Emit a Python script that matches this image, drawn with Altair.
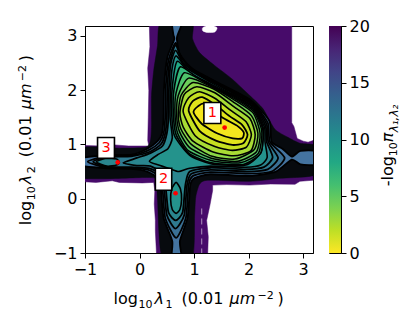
import altair as alt
import pandas as pd

FONT = "DejaVu Sans"
DOM = [-1, 3.18]

PURPLE = [(-1,.98),(-.7,.97),(-.45,.99),(-.2,.97),(.17,.97),(.15,1.07),(.16,1.5),(.17,1.99),(.15,2.4),(.19,2.8),(.18,3.18),
 (2.79,3.18),(2.79,1.40),(2.83,1.33),(2.89,1.11),(3.0,1.06),(3.09,1.04),(3.18,1.07),(3.18,.34),(2.94,.32),(2.85,.265),
 (2.4,.27),(2.02,.25),(1.6,.26),(1.34,.25),(1.34,.15),(1.29,-.12),(1.23,-.40),(1.26,-.7),(1.25,-1),(.31,-1),(.29,-.6),
 (.29,-.40),(.27,-.1),(.28,.15),(.26,.30),(.05,.29),(-.37,.30),(-.5,.33),(-.8,.30),(-1,.31)]
WHITE_BLOB = [(1.16,3.15),(1.29,3.2),(1.42,3.15),(1.38,3.07),(1.25,3.06),(1.16,3.09)]
BLACK = [(.39,3.25),(.33,2.82),(.26,2.36),(.22,1.90),(.22,1.35),(.20,1.07),(.11,.945),(-.37,.93),(-1.1,.93),(-1.1,.39),
 (.22,.39),(.31,.28),(.33,-.03),(.42,-1.1),(.96,-1.1),(1.01,-.30),(1.03,.03),(1.10,.265),(1.25,.34),(2.02,.32),(2.57,.375),
 (3.25,.45),(3.25,.96),(2.94,1.02),(2.72,1.13),(2.48,1.28),(2.26,1.66),(2.02,1.90),(1.69,2.21),(1.38,2.45),(1.10,2.69),(.97,2.95),(.96,3.25)]
T4 = [(.60,3.25),(.78,3.25),(.70,3.02),(.685,2.93),(.74,2.66),(.96,2.40),(1.47,2.12),(2.03,1.82),(2.38,1.43),(2.42,1.05),(2.62,.92),
 (2.79,.775),(2.95,.88),(3.25,.87),(3.25,.63),(2.95,.63),(2.79,.72),(2.50,.50),(2.01,.42),(1.30,.45),(1.01,.38),(.93,.25),(.88,-.35),
 (.74,-.78),(.77,-1.1),(.59,-1.1),(.60,-.78),(.44,-.35),(.39,.20),(.33,.38),(.14,.50),(-.15,.55),(-.60,.56),(-1.1,.61),(-1.1,.74),
 (-.60,.80),(-.15,.81),(.14,.92),(.33,1.06),(.41,1.20),(.44,1.50),(.45,2.05),(.51,2.60),(.635,2.93),(.62,3.02)]
T3B = [(.66,2.87),(.75,2.62),(.99,2.37),(1.50,2.09),(2.05,1.79),(2.35,1.40),(2.39,1.05),(2.66,.75),(2.42,.50),(1.99,.46),(1.30,.49),
 (.98,.42),(.90,.25),(.85,-.35),(.67,-.72),(.47,-.35),(.42,.20),(.36,.41),(.16,.53),(-.15,.565),(-.60,.575),(-.95,.68),(-.60,.785),
 (-.15,.795),(.16,.89),(.36,1.03),(.44,1.20),(.47,1.50),(.48,2.05),(.53,2.55)]
T3 = [(.66,2.83),(.77,2.58),(1.02,2.34),(1.53,2.06),(2.07,1.76),(2.33,1.37),(2.36,1.05),(2.54,.75),(2.35,.54),(1.97,.50),(1.30,.53),
 (.95,.46),(.87,.25),(.82,-.30),(.66,-.55),(.50,-.30),(.45,.20),(.39,.44),(.18,.56),(-.15,.58),(-.60,.59),(-.85,.68),(-.60,.77),
 (-.15,.78),(.18,.86),(.39,1.00),(.47,1.20),(.50,1.50),(.51,2.05),(.55,2.50)]
T2 = [(.66,2.73),(.80,2.50),(1.05,2.31),(1.55,2.03),(2.08,1.73),(2.31,1.34),(2.33,1.05),(2.44,.76),(2.28,.58),(1.95,.54),(1.30,.57),
 (.92,.50),(.84,.25),(.79,-.25),(.66,-.40),(.53,-.25),(.48,.20),(.42,.46),(.20,.60),(-.05,.61),(-.30,.66),(-.05,.75),(.20,.84),
 (.42,.97),(.50,1.20),(.53,1.50),(.54,2.05),(.57,2.48)]
T1 = [(.67,2.63),(.85,2.42),(1.10,2.26),(1.56,2.00),(2.08,1.70),(2.29,1.32),(2.30,1.05),(2.34,.76),(2.22,.62),(1.95,.58),(1.30,.60),
 (.92,.56),(.72,.50),(.56,.55),(.35,.62),(.18,.69),(.35,.82),(.52,.92),(.60,1.12),(.56,1.50),(.57,2.05),(.60,2.42)]
LOBE2 = [(.67,.30),(.75,.18),(.77,-.02),(.74,-.20),(.67,-.27),(.60,-.20),(.57,-.02),(.59,.18)]
LOBE3 = [(-.79,.68),(-.6,.75),(-.42,.73),(-.37,.67),(-.42,.62),(-.6,.60)]
C9 = [(.59,1.55),(.60,2.05),(.69,2.53),(.95,2.30),(1.56,1.98),(2.08,1.68),(2.27,1.30),(2.26,1.05),(2.22,.84),(1.95,.62),(1.32,.64),(.92,.80),(.64,1.16)]
C8 = [(.62,1.55),(.63,2.00),(.75,2.43),(1.10,2.20),(1.62,1.93),(2.08,1.65),(2.26,1.27),(2.22,.84),(1.90,.63),(1.32,.66),(.90,.84),(.67,1.18)]
C7 = [(.65,1.55),(.67,1.95),(.82,2.32),(1.20,2.14),(1.68,1.88),(2.08,1.62),(2.24,1.25),(2.18,.84),(1.85,.66),(1.33,.70),(.90,.88),(.70,1.20)]
C6 = [(.68,1.55),(.71,1.90),(.90,2.22),(1.30,2.07),(1.72,1.83),(2.08,1.58),(2.21,1.20),(2.14,.86),(1.80,.69),(1.33,.74),(.92,.94),(.73,1.24)]
C5 = [(.71,1.55),(.76,1.90),(.98,2.14),(1.36,2.02),(1.72,1.78),(2.05,1.53),(2.17,1.20),(2.10,.90),(1.75,.73),(1.33,.78),(.95,1.00),(.76,1.28)]
C4 = [(.74,1.58),(.82,1.92),(1.05,2.06),(1.38,1.95),(1.72,1.70),(2.02,1.48),(2.12,1.18),(2.04,.88),(1.72,.79),(1.35,.86),(.98,1.06),(.80,1.32)]
C3 = [(.80,1.60),(.90,1.86),(1.10,1.97),(1.38,1.85),(1.68,1.62),(1.95,1.42),(2.05,1.18),(1.96,.95),(1.70,.89),(1.38,.96),(1.02,1.16)]
C2 = [(.90,1.62),(.98,1.80),(1.15,1.87),(1.40,1.72),(1.65,1.52),(1.88,1.36),(1.98,1.18),(1.90,1.02),(1.70,.99),(1.40,1.07),(1.10,1.25)]
C1 = [(.99,1.59),(1.07,1.70),(1.20,1.75),(1.51,1.50),(1.78,1.35),(1.91,1.22),(1.88,1.11),(1.71,1.11),(1.43,1.20),(1.14,1.38)]

# (points, fill, line width)
LEVELS = [(T4,"#44739f",1.8),(T3B,"#3a7095",1.8),(T3,"#2f7a90",1.8),(T2,"#2a858e",1.8),(T1,"#24938c",1.6),
 (LOBE2,"#24938c",1.6),(LOBE3,"#2a858e",1.6),(C9,"#22a884",1.6),(C8,"#35b779",1.6),(C7,"#4ec36b",1.5),(C6,"#6ccd5a",1.5),
 (C5,"#8bd646",1.5),(C4,"#a8db34",1.6),(C3,"#c6e021",1.6),(C2,"#e0e31b",1.8),(C1,"#f4e61e",1.8)]

DOT_X = [1.56, 0.66, -0.40]
DOT_Y = [1.31, 0.10, 0.67]
LABELS = ["1", "2", "3"]
BOX_X1 = [1.18, 0.29, -0.77]
BOX_X2 = [1.49, 0.59, -0.46]
BOX_Y1 = [1.386, 0.155, 0.743]
BOX_Y2 = [1.77, 0.56, 1.127]
STREAK_X = [1.14]
STREAK_Y1 = [-0.18]
STREAK_Y2 = [-1.0]
CBAR_STOPS = ["#fde725","#bddf26","#7ad151","#44bf70","#22a884","#21918c","#2a788e","#355f8d","#414487","#482475","#440154"]

# axis title pieces: text, distance along the title, size, italic, shift from the baseline
TITLE_TEXT = ["log", "10", "λ", "1", "(0.01", "μm", "−2", ")"]
TITLE_POS = [0, 25, 41, 52, 68, 116, 144, 164]
TITLE_SIZE = [16, 11, 16, 11, 16, 16, 11, 16]
TITLE_STYLE = ["normal", "normal", "italic", "normal", "normal", "italic", "normal", "normal"]
TITLE_SHIFT = [0, 4, 0, 4, 0, 0, -5, 0]
CB_TEXT = ["-log", "10", "π", "λ₁,λ₂"]
CB_POS = [186, 156, 142, 132]
CB_SIZE = [16, 11, 16, 12]
CB_STYLE = ["normal", "normal", "italic", "italic"]
CB_SHIFT = [0, 4, 0, 5]

xs = alt.Scale(domain=DOM, nice=False, zero=False)
ys = alt.Scale(domain=DOM, nice=False, zero=False)
TICKS = [-1, 0, 1, 2, 3]
def axis():
    return alt.Axis(values=TICKS, title=None, grid=False, format="d", labelFont=FONT, labelFlush=False,
               labelFontSize=16, tickSize=5, tickColor="black",
               domainColor="black", labelColor="black", labelPadding=3)
xax = axis()
yax = axis()

def poly(points, fill, width=0.0, interp="cardinal-closed"):
    df = pd.DataFrame({"x": [p[0] for p in points], "y": [p[1] for p in points], "i": range(len(points))})
    kw = dict(clip=True, fill=fill, interpolate=interp, tension=0.35)
    if width > 0:
        kw.update(stroke="black", strokeWidth=width)
    else:
        kw.update(stroke=fill, strokeWidth=0.5)
    return alt.Chart(df).mark_line(**kw).encode(
        x=alt.X("x:Q", scale=xs, axis=xax),
        y=alt.Y("y:Q", scale=ys, axis=yax),
        order="i:Q",
    )

def piece(text, x, y, size, style, angle=0):
    return alt.Chart(pd.DataFrame({"t": [text]})).mark_text(
        font=FONT, fontSize=size, fontStyle=style, angle=angle, align="left", baseline="alphabetic", color="black"
    ).encode(x=alt.value(x), y=alt.value(y), text="t:N")

layers = [poly(PURPLE, "#470b6a", 0, "linear-closed"), poly(WHITE_BLOB, "white", 0), poly(BLACK, "#070a0e", 0)]
streak = alt.Chart(pd.DataFrame({"x": STREAK_X, "a": STREAK_Y1, "b": STREAK_Y2})).mark_rule(
    color="white", strokeWidth=0.8, strokeDash=[6, 4], opacity=0.7
).encode(x=alt.X("x:Q", scale=xs, axis=xax), y=alt.Y("a:Q", scale=ys, axis=yax), y2="b:Q")
layers += [streak]
layers += [poly(p, f, w) for p, f, w in LEVELS]

marks = pd.DataFrame({"x": DOT_X, "y": DOT_Y, "t": LABELS, "x1": BOX_X1, "x2": BOX_X2, "y1": BOX_Y1, "y2": BOX_Y2})
marks["cx"] = (marks.x1 + marks.x2) / 2
marks["cy"] = (marks.y1 + marks.y2) / 2
dots = alt.Chart(marks).mark_circle(color="#ff0000", size=22, opacity=1).encode(
    x=alt.X("x:Q", scale=xs, axis=xax), y=alt.Y("y:Q", scale=ys, axis=yax))
boxes = alt.Chart(marks).mark_rect(fill="white", stroke="black", strokeWidth=1.6).encode(
    x=alt.X("x1:Q", scale=xs, axis=xax), x2="x2:Q", y=alt.Y("y1:Q", scale=ys, axis=yax), y2="y2:Q")
texts = alt.Chart(marks).mark_text(color="#ff0000", font=FONT, fontSize=14.5).encode(
    x=alt.X("cx:Q", scale=xs, axis=xax), y=alt.Y("cy:Q", scale=ys, axis=yax), text="t:N")

title_pieces = []
for t, p, s, st, sh in zip(TITLE_TEXT, TITLE_POS, TITLE_SIZE, TITLE_STYLE, TITLE_SHIFT):
    title_pieces.append(piece(t, 28.5 + p, 278.3 + sh, s, st))
    t2 = "2" if t == "1" else t
    title_pieces.append(piece(t2, -53.8 + sh, 199.3 - p, s, st, 270))

main = alt.layer(*layers, dots, boxes, texts, *title_pieces).properties(width=228, height=227)

cb_df = pd.DataFrame({"a": [0], "b": [20]})
cbar = alt.Chart(cb_df).mark_rect(
    fill=alt.LinearGradient(gradient="linear", stops=[alt.GradientStop(offset=i / 10, color=c) for i, c in enumerate(CBAR_STOPS)],
                      x1=0, x2=0, y1=1, y2=0)
).encode(
    y=alt.Y("a:Q", scale=alt.Scale(domain=[0, 20], nice=False),
            axis=alt.Axis(orient="right", values=[0, 5, 10, 15, 20], title=None, grid=False, labelFont=FONT,
                          labelFontSize=16, tickSize=5, tickColor="black", domainColor="black", labelColor="black", labelPadding=3)),
    y2="b:Q",
)
cb_pieces = [piece(t, 64.3 + sh, p - 25.7, s, st, 270) for t, p, s, st, sh in zip(CB_TEXT, CB_POS, CB_SIZE, CB_STYLE, CB_SHIFT)]
cb = alt.layer(cbar, *cb_pieces).properties(width=12, height=227)

chart = alt.hconcat(main, cb, spacing=14).configure_view(stroke="black", strokeWidth=1).properties(
    padding={"left": 8, "top": 9, "right": 0, "bottom": 0}, background="white")
chart.save("out.html", embed_options={"renderer": "svg", "actions": False})
